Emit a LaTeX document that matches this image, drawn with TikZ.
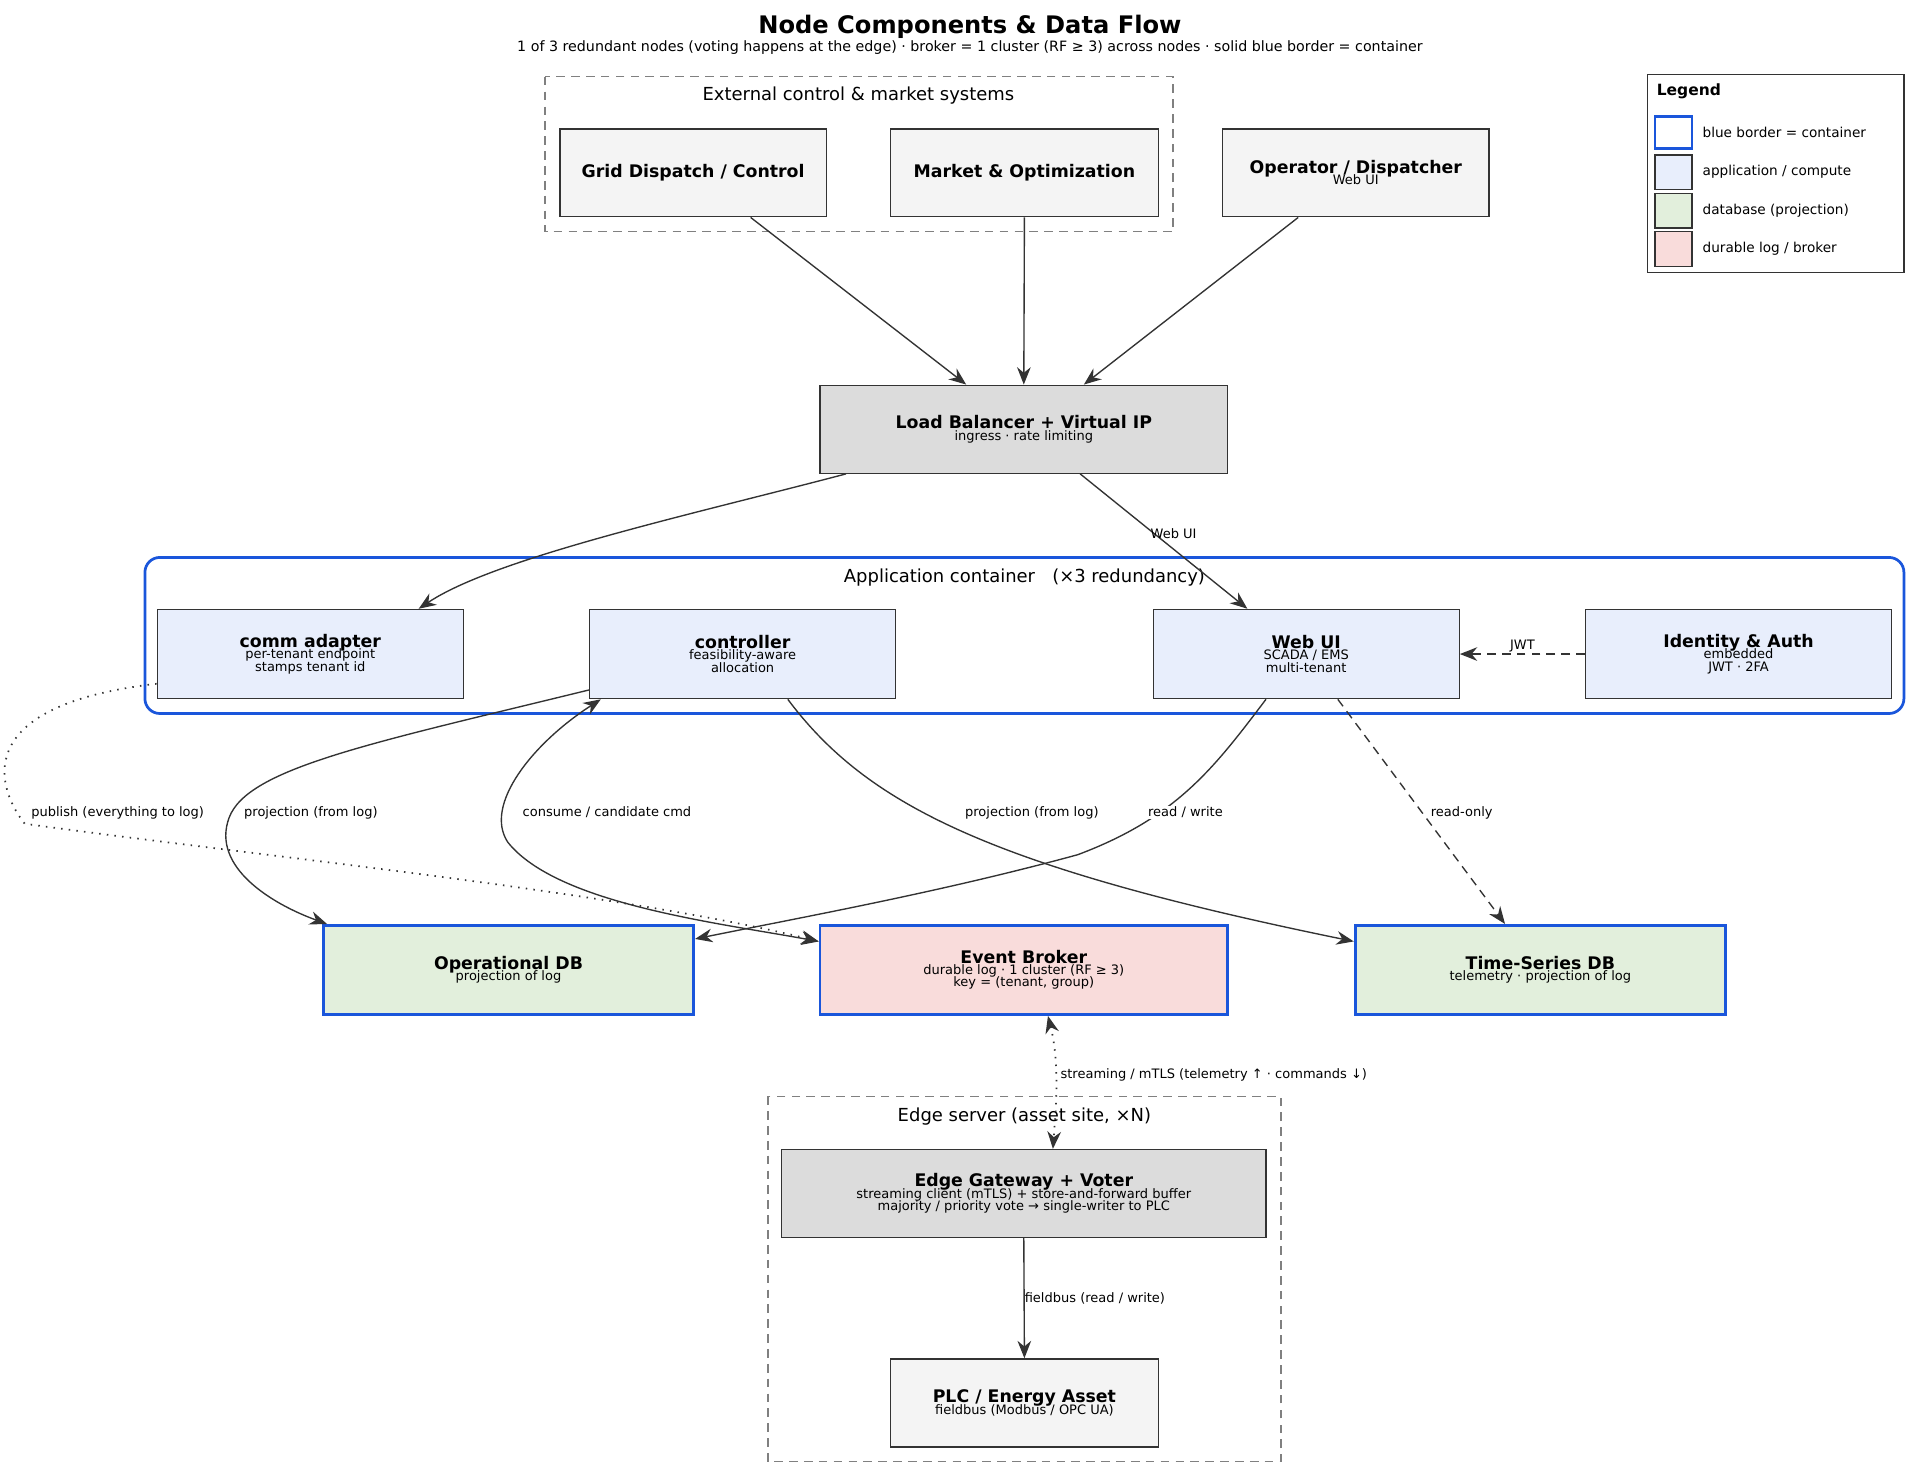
\documentclass[tikz,border=0pt]{standalone}
\usepackage{fontspec}
\setmainfont{DejaVu Sans}
\usetikzlibrary{arrows.meta}
\definecolor{bl}{HTML}{1A56DB}
\definecolor{ln}{HTML}{333333}
\definecolor{gr}{HTML}{F4F4F4}
\definecolor{dg}{HTML}{DCDCDC}
\definecolor{ap}{HTML}{E8EEFC}
\definecolor{db}{HTML}{E2EFDC}
\definecolor{lg}{HTML}{F9DCDB}
\newcommand{\mytt}[1]{\textbf{\fontsize{14}{16}\selectfont #1}}
\newcommand{\myss}[1]{{\fontsize{10.5}{11}\selectfont #1}}
\begin{document}
\begin{tikzpicture}[x=1pt,y=-1pt,
  box/.style={draw=ln,line width=1.1pt,align=center,inner sep=0pt},
  T/.style={font=\fontsize{14}{16}\selectfont\bfseries},
  el/.style={font=\fontsize{10.5}{12}\selectfont,text=black,fill=white,inner sep=1pt},
  tip/.tip={Stealth[length=14pt,width=11pt]},
  ar/.style={draw=ln,line width=1.1pt,-tip},
  dots/.style={dash pattern=on 1.2pt off 5pt,line width=1.4pt},
  dsh/.style={dash pattern=on 7pt off 5pt},
  clu/.style={draw=gray,line width=1.1pt,dash pattern=on 7pt off 5pt}]
\useasboundingbox (0,0) rectangle (1550,1183.5);
\fill[white] (0,0) rectangle (1550,1183.5);
\node[font=\fontsize{19.5}{22}\selectfont\bfseries] (title) at (783,22) {Node Components \& Data Flow};
\node[font=\fontsize{11.5}{13}\selectfont] (sub) at (783,38) {1 of 3 redundant nodes (voting happens at the edge) · broker = 1 cluster (RF ≥ 3) across nodes · solid blue border = container};
% clusters
\draw[clu] (440,62) rectangle (947,187);
\node[font=\fontsize{14.5}{16}\selectfont] (cl1) at (693,77) {External control \& market systems};
\draw[bl,line width=2.2pt,rounded corners=12pt] (117,450) rectangle (1537,576);
\node[font=\fontsize{14.5}{16}\selectfont] (cl2) at (827,466) {Application container \ \ (×3 redundancy)};
\draw[clu] (620,885) rectangle (1034,1180);
\node[font=\fontsize{14.5}{16}\selectfont] (cl3) at (827,901) {Edge server (asset site, ×N)};
% legend
\draw[ln,line width=1.1pt] (1330,60) rectangle (1537,220);
\node[anchor=west,font=\fontsize{12.5}{14}\selectfont\bfseries] (lgt) at (1334,74) {Legend};
\draw[bl,fill=white,line width=2.2pt] (1336,94) rectangle (1366,120);
\draw[ln,fill=ap,line width=1.1pt] (1336,125) rectangle (1366,153);
\draw[ln,fill=db,line width=1.1pt] (1336,156) rectangle (1366,184);
\draw[ln,fill=lg,line width=1.1pt] (1336,187) rectangle (1366,215);
\node[anchor=west,font=\fontsize{11}{12}\selectfont] (lg1) at (1371,107) {blue border = container};
\node[anchor=west,font=\fontsize{11}{12}\selectfont] (lg2) at (1371,139) {application / compute};
\node[anchor=west,font=\fontsize{11}{12}\selectfont] (lg3) at (1371,170) {database (projection)};
\node[anchor=west,font=\fontsize{11}{12}\selectfont] (lg4) at (1371,201) {durable log / broker};
% nodes
\node[box,fill=gr,minimum width=215pt,minimum height=71pt,T] (grid) at (559.5,139.5) {Grid Dispatch / Control};
\node[box,fill=gr,minimum width=216pt,minimum height=71pt,T] (mkt) at (827,139.5) {Market \& Optimization};
\node[box,fill=gr,minimum width=215pt,minimum height=71pt] (op) at (1094.5,139.5) {\mytt{Operator / Dispatcher}\\[-3pt]\myss{Web UI}};
\node[box,fill=dg,minimum width=329pt,minimum height=71pt] (lb) at (826.5,346.5) {\mytt{Load Balancer + Virtual IP}\\[-3pt]\myss{ingress · rate limiting}};
\node[box,fill=ap,minimum width=247pt,minimum height=72pt] (comm) at (250.5,528) {\mytt{comm adapter}\\[-3pt]\myss{per-tenant endpoint}\\[-2pt]\myss{stamps tenant id}};
\node[box,fill=ap,minimum width=247pt,minimum height=72pt] (ctl) at (599.5,528) {\mytt{controller}\\[-3pt]\myss{feasibility-aware}\\[-2pt]\myss{allocation}};
\node[box,fill=ap,minimum width=247pt,minimum height=72pt] (web) at (1054.5,528) {\mytt{Web UI}\\[-3pt]\myss{SCADA / EMS}\\[-2pt]\myss{multi-tenant}};
\node[box,fill=ap,minimum width=247pt,minimum height=72pt] (idp) at (1403.5,528) {\mytt{Identity \& Auth}\\[-3pt]\myss{embedded}\\[-2pt]\myss{JWT · 2FA}};
\node[box,draw=bl,line width=2.2pt,fill=db,minimum width=299pt,minimum height=72pt] (odb) at (410.5,783) {\mytt{Operational DB}\\[-3pt]\myss{projection of log}};
\node[box,draw=bl,line width=2.2pt,fill=lg,minimum width=329pt,minimum height=72pt] (brk) at (826.5,783) {\mytt{Event Broker}\\[-3pt]\myss{durable log · 1 cluster (RF ≥ 3)}\\[-2pt]\myss{key = (tenant, group)}};
\node[box,draw=bl,line width=2.2pt,fill=db,minimum width=299pt,minimum height=72pt] (tsdb) at (1243.5,783) {\mytt{Time-Series DB}\\[-3pt]\myss{telemetry · projection of log}};
\node[box,fill=dg,minimum width=391pt,minimum height=71pt] (edge) at (826.5,963.5) {\mytt{Edge Gateway + Voter}\\[-3pt]\myss{streaming client (mTLS) + store-and-forward buffer}\\[-2pt]\myss{majority / priority vote → single-writer to PLC}};
\node[box,fill=gr,minimum width=216pt,minimum height=71pt] (plc) at (827,1132.5) {\mytt{PLC / Energy Asset}\\[-3pt]\myss{fieldbus (Modbus / OPC UA)}};
% edges
\draw[ar] (grid.south -| 606,0) -- (lb.north -| 780,0);
\draw[ar] (mkt.south) -- (lb.north);
\draw[ar] (op.south -| 1048,0) -- (lb.north -| 875,0);
\draw[ar] (lb.south -| 683,0) .. controls (560,415) and (400,450) .. (comm.north -| 338,0);
\draw[ar] (lb.south -| 872,0) -- (web.north -| 1007,0) node[pos=0.44,right,el,fill=none,xshift=-4pt] {Web UI};
\draw[ar,dsh] (idp.west) -- (web.east) node[midway,above,el,fill=none] {JWT};
\draw[ar,dots] (comm.south west |- 0,552) .. controls (-30,570) and (0,640) .. (20,665) .. controls (200,690) and (500,720) .. (brk.north west |- 0,760);
\node[el] (l1) at (95,656) {publish (everything to log)};
\draw[ar] (ctl.south west |- 0,557) .. controls (300,600) and (200,620) .. (185,660) .. controls (170,700) and (220,730) .. (odb.north west -| 264,0);
\node[el] (l2) at (251,656) {projection (from log)};
\draw[ar,tip-tip] (ctl.south -| 485,0) .. controls (430,600) and (390,650) .. (410,680) .. controls (450,730) and (580,745) .. (brk.north west |- 0,760);
\node[el] (l3) at (490,656) {consume / candidate cmd};
\draw[ar] (ctl.south -| 636,0) .. controls (700,650) and (800,700) .. (tsdb.west |- 0,760);
\node[el] (l4) at (833,656) {projection (from log)};
\draw[ar] (web.south -| 1022,0) .. controls (980,620) and (950,660) .. (870,690) .. controls (760,720) and (650,740) .. (odb.north east |- 0,758);
\node[el] (l5) at (957,656) {read / write};
\draw[ar,dsh] (web.south -| 1080,0) -- (tsdb.north -| 1215,0);
\node[el] (l6) at (1180,656) {read-only};
\draw[ar,dots,tip-tip] (brk.south -| 846,0) .. controls (856,860) and (852,900) .. (edge.north -| 850,0);
\node[el,anchor=west] (l7) at (855,868) {streaming / mTLS (telemetry ↑ · commands ↓)};
\draw[ar] (edge.south) -- (plc.north) node[midway,right,el,fill=none,xshift=-1pt] {fieldbus (read / write)};
\end{tikzpicture}
\end{document}
